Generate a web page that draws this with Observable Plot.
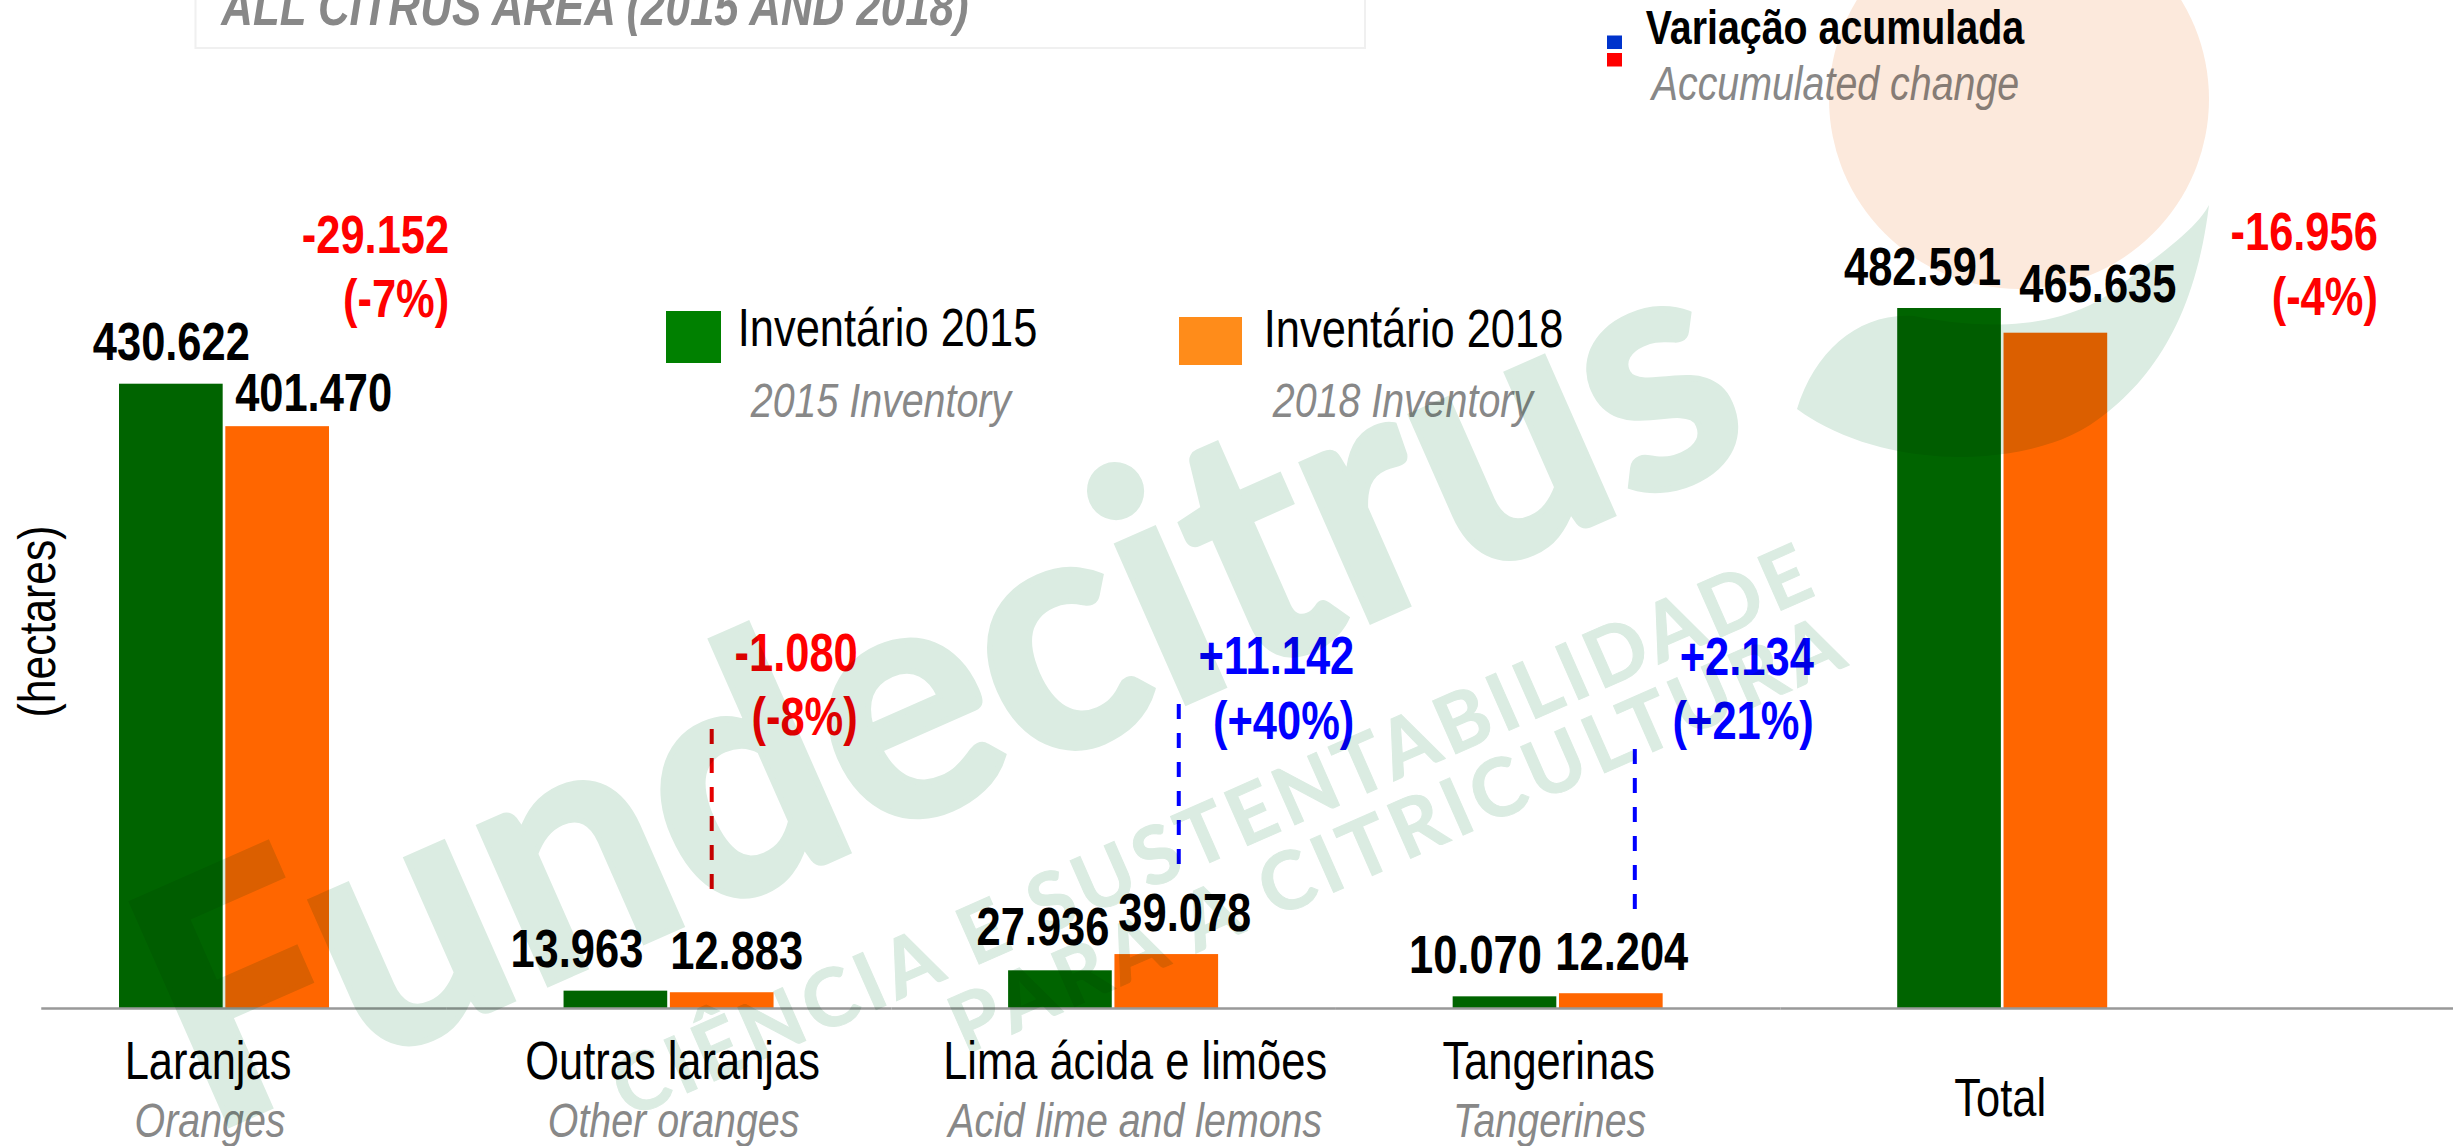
<!DOCTYPE html>
<html><head><meta charset="utf-8">
<script src="https://cdn.jsdelivr.net/npm/d3@7"></script>
<script src="https://cdn.jsdelivr.net/npm/@observablehq/plot@0.6"></script>
<style>html,body{margin:0;padding:0;background:#fff;overflow:hidden}svg{display:block}</style>
</head><body><div id="chart"></div>
<script>
const categories = ["Laranjas","Outras laranjas","Lima ácida e limões","Tangerinas","Total"];
const categoriesEn = ["Oranges","Other oranges","Acid lime and lemons","Tangerines",""];
const values2015 = [430622,13963,27936,10070,482591];
const values2018 = [401470,12883,39078,12204,465635];
const labels2015 = ["430.622","13.963","27.936","10.070","482.591"];
const labels2018 = ["401.470","12.883","39.078","12.204","465.635"];
const changes = ["-29.152","-1.080","+11.142","+2.134","-16.956"];
const changesPct = ["(-7%)","(-8%)","(+40%)","(+21%)","(-4%)"];
const leaderCats = ["Outras laranjas","Lima ácida e limões","Tangerinas"];
const leaderFrom = [83700,100900,70000];
const leaderTo = [194900,212100,180500];
const series = ["2015","2018"];

const sans = "'Liberation Sans',sans-serif";
const RED="#ff0000", BLUE="#0000ff";

const rows = categories.flatMap((c,i)=>[
  {c,s:"2015",v:values2015[i],l:labels2015[i]},
  {c,s:"2018",v:values2018[i],l:labels2018[i]}]);
const ch = categories.map((c,i)=>({c,v:values2018[i],t:changes[i]+"\n"+changesPct[i],col:changes[i][0]==="+"?BLUE:RED}));

const valueNudges = [[0,-24],[36,-16],[-39,-24],[14.5,-24],[-17.5,-26],[18,-24],[-29.5,-24],[10.5,-24],[-27,-24],[42,-31.6]];
const changeNudges = [[171.5,-110],[135.5,-258],[187.5,-216],[202.5,-255],[322,-18.6]];
const catNudges = [[-17,70],[3,70],[21,70],[-10,70],[-3,107]];
const enNudges = [[-15,128],[4,128],[21,128],[-9,128],[0,128]];
const leaderDx = [-10.5,12,23.5];
const yMin = 2059;

const chromeText = (t,x,y,o)=>Plot.text([t],{text:d=>d,frameAnchor:"top-left",dx:x,dy:y,lineAnchor:"bottom",textAnchor:"start",facet:"super",fontFamily:sans,...o});
const LEG={fontSize:53,fill:"#000"}, LEGEN={fontSize:48,fill:"#888",fontStyle:"italic"};

const marks = [
  Plot.barY(rows,{fx:"c",x:"s",y:"v",fill:"s"}),
  ...categories.map((c,i)=>Plot.ruleY([c],{fx:d=>d,y:()=>yMin,stroke:"#999",strokeWidth:2.5,insetLeft:i===0?39:0,insetRight:i===4?-228:0})),
  ...rows.map((r,i)=>Plot.text([r],{fx:"c",x:"s",y:"v",text:"l",dx:valueNudges[i][0],dy:valueNudges[i][1],lineAnchor:"bottom",fontFamily:sans,fontWeight:"bold",fontSize:53,fill:"#000"})),
  ...ch.map((r,i)=>Plot.text([r],{fx:"c",x:()=>"2018",y:"v",text:"t",dx:changeNudges[i][0],dy:changeNudges[i][1],textAnchor:"end",lineAnchor:"bottom",lineHeight:1.21,fontFamily:sans,fontWeight:"bold",fontSize:53,fill:r.col})),
  ...leaderCats.map((c,i)=>Plot.ruleX([c],{fx:d=>d,x:()=>"2018",y1:()=>leaderFrom[i],y2:()=>leaderTo[i],dx:leaderDx[i],stroke:i?BLUE:"#e60000",strokeWidth:4,strokeDasharray:"15 14"})),
  ...categories.map((c,i)=>Plot.text([c],{fx:d=>d,y:()=>yMin,text:d=>d,dx:catNudges[i][0],dy:catNudges[i][1],lineAnchor:"bottom",fontFamily:sans,fontSize:53,fill:"#000"})),
  ...categoriesEn.map((t,i)=>Plot.text([t],{fx:()=>categories[i],y:()=>yMin,text:d=>d,dx:enNudges[i][0],dy:enNudges[i][1],lineAnchor:"bottom",fontFamily:sans,fontSize:48,fontStyle:"italic",fill:"#888"})),
  chromeText("ALL CITRUS AREA (2015 AND 2018)",218.5,24,{fontSize:53.5,fontWeight:"bold",fontStyle:"italic",fill:"#888"}),
  chromeText("Inventário 2015",735,345,LEG),
  chromeText("2015 Inventory",748,416.5,LEGEN),
  chromeText("Inventário 2018",1261,346,LEG),
  chromeText("2018 Inventory",1270,416.5,LEGEN),
  chromeText("Variação acumulada",1643,43,{fontSize:48,fontWeight:"bold",fill:"#000"}),
  chromeText("Accumulated change",1649,99,LEGEN),
  Plot.text(["(hectares)"],{text:d=>d,frameAnchor:"top-left",dx:52,dy:621,rotate:-90,textAnchor:"middle",lineAnchor:"bottom",facet:"super",fontFamily:sans,fontSize:52,fill:"#000"})
];

const svgNode = Plot.plot({
  width:2453,height:1146,marginTop:0,marginBottom:0,marginLeft:0,marginRight:0,
  style:{background:"transparent",overflow:"visible"},
  fx:{domain:categories,range:[2.25,2225],padding:0,round:false,axis:null},
  x:{type:"band",domain:series,range:[116.75,326.75],paddingInner:0.025,paddingOuter:0,round:false,axis:null},
  y:{domain:[yMin,482591],range:[1008,308],clamp:true,axis:null},
  color:{domain:series,range:["#006400","#ff6600"]},
  marks
});

const svg = d3.select(svgNode);
// condensed lettering: the installed fonts have no narrow cut
svg.selectAll("text").each(function(){
  const t=this.getAttribute("transform")||"";
  this.setAttribute("transform",t+" scale(0.82,1)");
});
svg.append("path").attr("d","M195.5,-5V48H1365V-5").attr("fill","none").attr("stroke","#f0f0f0").attr("stroke-width",2);
[[666,311,55,52,"#008000"],[1179,317,63,48,"#ff8c1a"],[1607,35.5,15,13.5,"#0033cc"],[1607,53,15,13.5,"#ff0000"]].forEach(([x,y,w,h,f])=>
  svg.append("rect").attr("x",x).attr("y",y).attr("width",w).attr("height",h).attr("fill",f));
const wm = svg.append("g").style("mix-blend-mode","multiply").attr("pointer-events","none");
wm.append("circle").attr("cx",2019).attr("cy",99).attr("r",190).attr("fill","#fce9dc");
wm.append("path").attr("d","M2209,205C2195,320 2150,385 2090,425C2020,470 1880,470 1797,409C1815,350 1860,312 1914,316C1960,325 2060,340 2126,281C2165,250 2195,230 2209,205Z").attr("fill","#dbece2");
const wmt=(t,x,y,fs,len,adj,sw)=>wm.append("text").text(t).attr("transform",`translate(${x},${y}) rotate(-23.8)`)
  .attr("text-anchor","start").attr("font-family","Lato,'Open Sans',sans-serif").attr("font-weight",700).attr("font-size",fs)
  .attr("fill","#dbece2").attr("stroke","#dbece2").attr("stroke-width",sw).attr("textLength",len).attr("lengthAdjust",adj);
wmt("Fundecitrus",206,1135,335,1700,"spacingAndGlyphs",6);
wmt("CIÊNCIA E SUSTENTABILIDADE",628,1119,80,1300,"spacing",1);
wmt("PARA A CITRICULTURA",965,1055,80,966,"spacing",1);
document.getElementById("chart").append(svgNode);
</script></body></html>
